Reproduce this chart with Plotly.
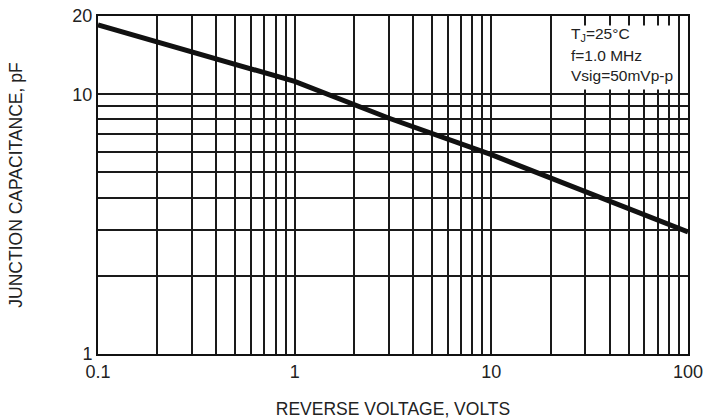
import plotly.graph_objects as go

# Data
voltage = [0.1, 1, 3, 10, 100]
capacitance = [18.5, 11.2, 8.1, 5.85, 2.95]

x_tickvals = [0.1, 0.2, 0.3, 0.4, 0.5, 0.6, 0.7, 0.8, 0.9,
              1, 2, 3, 4, 5, 6, 7, 8, 9,
              10, 20, 30, 40, 50, 60, 70, 80, 90, 100]
x_ticktext = ["0.1"] + [""] * 8 + ["1"] + [""] * 8 + ["10"] + [""] * 8 + ["100"]

y_tickvals = [1, 2, 3, 4, 5, 6, 7, 8, 9, 10, 20]
y_ticktext = ["1", "", "", "", "", "", "", "", "", "10", "20"]

note_lines = ["T<sub>J</sub>=25°C", "f=1.0 MHz", "Vsig=50mVp-p"]

FONT = "Liberation Sans, Arial, sans-serif"

fig = go.Figure()
fig.add_trace(go.Scatter(
    x=voltage, y=capacitance, mode="lines",
    line=dict(color="#111111", width=5),
    showlegend=False, hoverinfo="skip", cliponaxis=False,
))

fig.update_xaxes(
    type="log", range=[-1, 2], automargin=False,
    tickvals=x_tickvals, ticktext=x_ticktext,
    showgrid=True, gridcolor="#1a1a1a", gridwidth=2,
    showline=True, linecolor="#111111", linewidth=2, mirror=True,
    ticks="", zeroline=False, ticklabeloverflow="allow",
    tickfont=dict(family=FONT, size=18, color="#222222"),
    title=dict(text="REVERSE VOLTAGE, VOLTS", standoff=22,
               font=dict(family=FONT, size=17.5, color="#222222")),
)
fig.update_yaxes(
    type="log", range=[0, 1.30104], automargin=False,
    tickvals=y_tickvals, ticktext=y_ticktext,
    showgrid=True, gridcolor="#1a1a1a", gridwidth=2,
    showline=True, linecolor="#111111", linewidth=2, mirror=True,
    ticks="", zeroline=False, ticklabeloverflow="allow",
    tickfont=dict(family=FONT, size=18, color="#222222"),
    title=dict(text="JUNCTION CAPACITANCE, pF", standoff=45,
               font=dict(family=FONT, size=17.5, color="#222222")),
)

# white box behind the conditions note
fig.add_annotation(
    xref="x domain", yref="y domain", x=0.788, y=0.973,
    xanchor="left", yanchor="top", showarrow=False,
    text=" ", width=111, height=63, bgcolor="white", borderpad=0,
    font=dict(family=FONT, size=10),
)

for i, t in enumerate(note_lines):
    fig.add_annotation(
        xref="x domain", yref="y domain",
        x=0.798, y=(354 - (35 + 20 * i)) / 338,
        xanchor="left", yanchor="middle", showarrow=False,
        text=t, font=dict(family=FONT, size=15.5, color="#222222"),
    )

fig.update_layout(
    width=712, height=419,
    margin=dict(l=98, r=24, t=16, b=65),
    paper_bgcolor="white", plot_bgcolor="white",
)

# remove the default 8px page margin so the figure fills the window exactly
fig.write_html("out.html",
               config={"displayModeBar": False, "staticPlot": True},
               post_script="document.body.style.margin='0';document.body.style.overflow='hidden';")
